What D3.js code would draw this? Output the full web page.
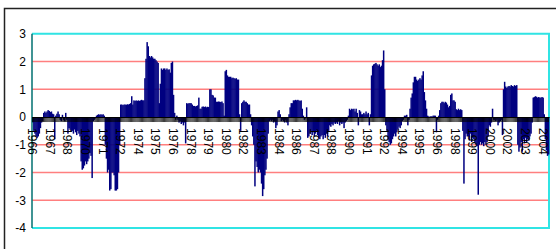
<!DOCTYPE html>
<html>
<head>
<meta charset="utf-8">
<script src="https://cdn.jsdelivr.net/npm/d3@7"></script>
<style>
  body { margin: 0; background: #fff; }
</style>
</head>
<body>
<div id="chart"></div>
<script>
// monthly series, Jan 1966 .. Feb 2005
const firstYear = 1966;
const values = [
  -0.2,-0.5,-0.6,-0.7,-0.75,-0.7,-0.6,-0.4,-0.2,-0.15,0.15,0.2,        // 1966
  0.15,0.2,0.25,0.22,0.18,0.2,0.12,0.1,-0.8,0.05,0.12,0.2,             // 1967
  0.1,-0.1,-0.15,0.08,-0.1,-0.15,0.15,-0.1,-0.6,-0.4,-0.45,-0.5,       // 1968
  -0.5,-0.6,-0.45,-0.55,-0.65,-0.5,-0.6,-0.7,-1.6,-1.9,-1.85,-1.75,    // 1969
  -1.6,-1.7,-1.6,-1.5,-1.3,-1.4,-2.2,-0.15,-0.1,-0.05,0.05,0.08,       // 1970
  0.1,0.08,0.1,0.08,0.1,0.05,-1.0,-1.5,-2.0,-1.9,-2.65,-2.6,           // 1971
  -2.0,-2.0,-2.1,-2.65,-2.65,-2.6,-2.0,-1.0,0.45,0.45,0.43,0.45,       // 1972
  0.45,0.44,0.46,0.45,0.47,0.5,0.75,0.45,0.6,0.58,0.6,0.58,            // 1973
  0.6,0.58,0.6,0.62,0.6,0.6,1.4,2.1,2.7,2.55,2.2,2.15,                 // 1974
  2.2,2.15,2.1,2.1,2.05,2.0,1.95,0.5,1.2,1.75,1.7,1.75,                // 1975
  1.75,1.7,1.75,1.7,1.72,1.6,1.95,2.0,0.8,0.15,-0.1,0.05,              // 1976
  -0.1,-0.2,-0.15,-0.25,-0.2,-0.3,-0.2,-0.95,0.5,0.48,0.5,0.5,         // 1977
  0.5,0.45,0.4,0.4,0.38,0.4,0.42,0.7,0.3,0.3,0.37,0.38,                // 1978
  0.36,0.38,0.35,0.37,0.36,1.0,1.0,0.8,0.78,0.7,0.7,0.55,              // 1979
  0.55,0.56,0.55,0.54,0.56,0.5,0.05,1.65,1.7,1.5,1.45,1.45,            // 1980
  1.45,1.4,1.42,1.4,1.38,1.4,1.35,1.35,0.1,-0.5,0.5,0.55,              // 1981
  0.6,0.55,0.55,0.5,0.45,0.45,0.1,-0.3,-0.7,-1.0,-2.5,-1.6,            // 1982
  -1.8,-2.0,-1.9,-2.0,-2.4,-2.85,-2.6,-2.1,-1.9,-1.5,-0.6,-0.15,       // 1983
  -0.1,-0.15,-0.1,-0.2,-0.15,-0.4,-0.3,0.2,0.25,0.1,-0.15,-0.1,        // 1984
  -0.15,-0.2,-0.1,-0.2,-0.3,0.1,0.35,0.5,0.5,0.6,0.6,0.62,             // 1985
  0.6,0.62,0.6,0.58,0.6,0.3,0.05,-0.1,-0.05,0.35,-0.75,-0.7,           // 1986
  -0.6,-0.5,-0.65,-0.55,-0.7,-0.6,-0.5,-0.65,-0.75,-0.8,-0.7,-0.65,    // 1987
  -0.8,-0.65,-0.75,-0.6,-0.7,-0.5,-0.3,-0.35,-0.25,-0.3,-0.2,-0.25,    // 1988
  -0.2,-0.25,-0.15,-0.3,-0.2,-0.25,-0.2,-0.4,-0.2,-0.15,-0.1,0.05,     // 1989
  0.3,0.25,0.3,0.28,0.3,0.2,0.3,0.15,-0.3,0.25,0.2,0.1,                // 1990
  0.1,0.15,0.1,0.2,0.1,0.15,-0.3,0.1,1.5,1.85,1.9,1.92,                // 1991
  1.95,1.9,1.85,1.9,1.8,1.85,2.05,2.4,1.0,-0.3,-0.5,-0.8,              // 1992
  -0.9,-1.0,-0.95,-0.8,-0.7,-0.6,-0.7,-0.55,-0.45,-0.35,-0.4,-0.3,     // 1993
  -0.15,-0.1,0.05,0.05,0.08,-0.3,-0.1,0.3,0.7,0.85,1.25,1.45,          // 1994
  1.45,1.35,1.3,1.35,1.4,1.35,1.5,1.65,0.9,0.6,0.3,0.05,               // 1995
  0.02,0.01,0.03,0.02,0.05,0.05,0.05,-0.55,-0.1,0.05,0.25,0.5,         // 1996
  0.55,0.55,0.5,0.55,0.52,0.45,0.35,0.4,0.8,0.85,0.6,0.6,              // 1997
  0.55,0.28,0.25,0.3,0.25,0.28,0.25,-0.5,-2.4,-0.8,-0.6,-0.7,          // 1998
  -0.7,-0.85,-0.6,-0.9,-0.75,-0.8,-0.9,-1.0,-1.05,-2.8,-1.0,-0.9,      // 1999
  -1.0,-0.95,-1.05,-0.9,-1.0,-0.9,-0.7,-0.3,-0.35,-0.2,0.3,-0.1,       // 2000
  -0.1,-0.15,-0.1,-0.3,-0.2,-0.15,-0.1,-0.65,1.0,1.27,1.1,1.05,        // 2001
  1.1,1.12,1.1,1.15,1.12,1.1,1.15,1.12,1.15,-1.0,-1.25,-1.1,           // 2002
  -0.9,-1.25,-0.8,-0.95,-0.75,-0.9,-0.8,-0.85,-0.7,-0.6,-0.2,0.7,      // 2003
  0.72,0.75,0.73,0.7,0.72,0.7,0.7,0.72,0.7,0.1,-0.8,-1.2,              // 2004
  -1.4,-1.35                                                           // 2005
];
const yTicks = [3, 2, 1, 0, -1, -2, -3, -4];
const gridValues = [2, 1, -1, -2, -3];
const labelEvery = 16; // one year label every 16 months

// category names "1966-01", "1966-02", ...
const categories = values.map(function (d, i) {
  return (firstYear + Math.floor(i / 12)) + "-" + String(i % 12 + 1).padStart(2, "0");
});

const W = 556, H = 249;
const plot = { left: 32, right: 549, top: 33.8, bottom: 228 };
const font = '"Liberation Sans", Arial, sans-serif';

var x = d3.scaleBand()
  .domain(categories)
  .range([plot.left, plot.right])
  .padding(0);

var y = d3.scaleLinear()
  .domain([-4, 3])
  .range([plot.bottom, plot.top]);

var svg = d3.select("#chart").append("svg")
  .attr("width", W)
  .attr("height", H);

svg.append("rect")
  .attr("width", W).attr("height", H)
  .attr("fill", "#fff");

// outer chart frame
svg.append("rect")
  .attr("x", 4.5).attr("y", 8.5)
  .attr("width", 560).attr("height", 250)
  .attr("fill", "none")
  .attr("stroke", "#222")
  .attr("stroke-width", 1.5);

// gridlines
svg.append("g").selectAll("line")
  .data(gridValues)
  .enter().append("line")
  .attr("x1", plot.left).attr("x2", plot.right)
  .attr("y1", function (d) { return y(d); })
  .attr("y2", function (d) { return y(d); })
  .attr("stroke", "#ff7f7f")
  .attr("stroke-width", 1.5);

// plot area border (top, bottom, right)
svg.append("path")
  .attr("d", "M" + plot.left + "," + y(3) + "H" + plot.right + "V" + y(-4) + "H" + plot.left)
  .attr("fill", "none")
  .attr("stroke", "#30e4e4")
  .attr("stroke-width", 2);

// columns
var y0 = y(0);
svg.append("g").selectAll("rect")
  .data(values)
  .enter().append("rect")
  .attr("x", function (d, i) { return x(categories[i]); })
  .attr("width", x.bandwidth() + 0.4)
  .attr("y", function (d) { return Math.min(y(d), y0); })
  .attr("height", function (d) { return Math.abs(y(d) - y0); })
  .attr("fill", "#000080");

// y axis
var yAxis = svg.append("g");
yAxis.append("line")
  .attr("x1", plot.left).attr("x2", plot.left)
  .attr("y1", y(3)).attr("y2", y(-4))
  .attr("stroke", "#007070")
  .attr("stroke-width", 1.5);
yAxis.selectAll("text")
  .data(yTicks)
  .enter().append("text")
  .attr("x", 26)
  .attr("y", function (d) { return y(d); })
  .attr("dy", "0.36em")
  .attr("text-anchor", "end")
  .attr("font-family", font)
  .attr("font-size", 12)
  .attr("fill", "#000")
  .text(function (d) { return d; });

// x axis at zero with a tick for every month
var xAxis = svg.append("g")
  .attr("transform", "translate(0," + y0 + ")")
  .call(d3.axisBottom(x)
    .tickSize(5)
    .tickSizeOuter(0)
    .tickFormat(function (d, i) { return i % labelEvery === 0 ? d.slice(0, 4) : ""; }));

xAxis.attr("font-family", font).attr("font-size", 12);
xAxis.select(".domain").attr("stroke", "#000").attr("stroke-width", 1);
xAxis.selectAll(".tick line").attr("stroke", "#000").attr("stroke-width", 0.8);
xAxis.selectAll(".tick text")
  .attr("transform", "rotate(90)")
  .attr("x", 11)
  .attr("y", 0)
  .attr("dy", "0.36em")
  .attr("text-anchor", "start")
  .attr("fill", "#000");
</script>
</body>
</html>
